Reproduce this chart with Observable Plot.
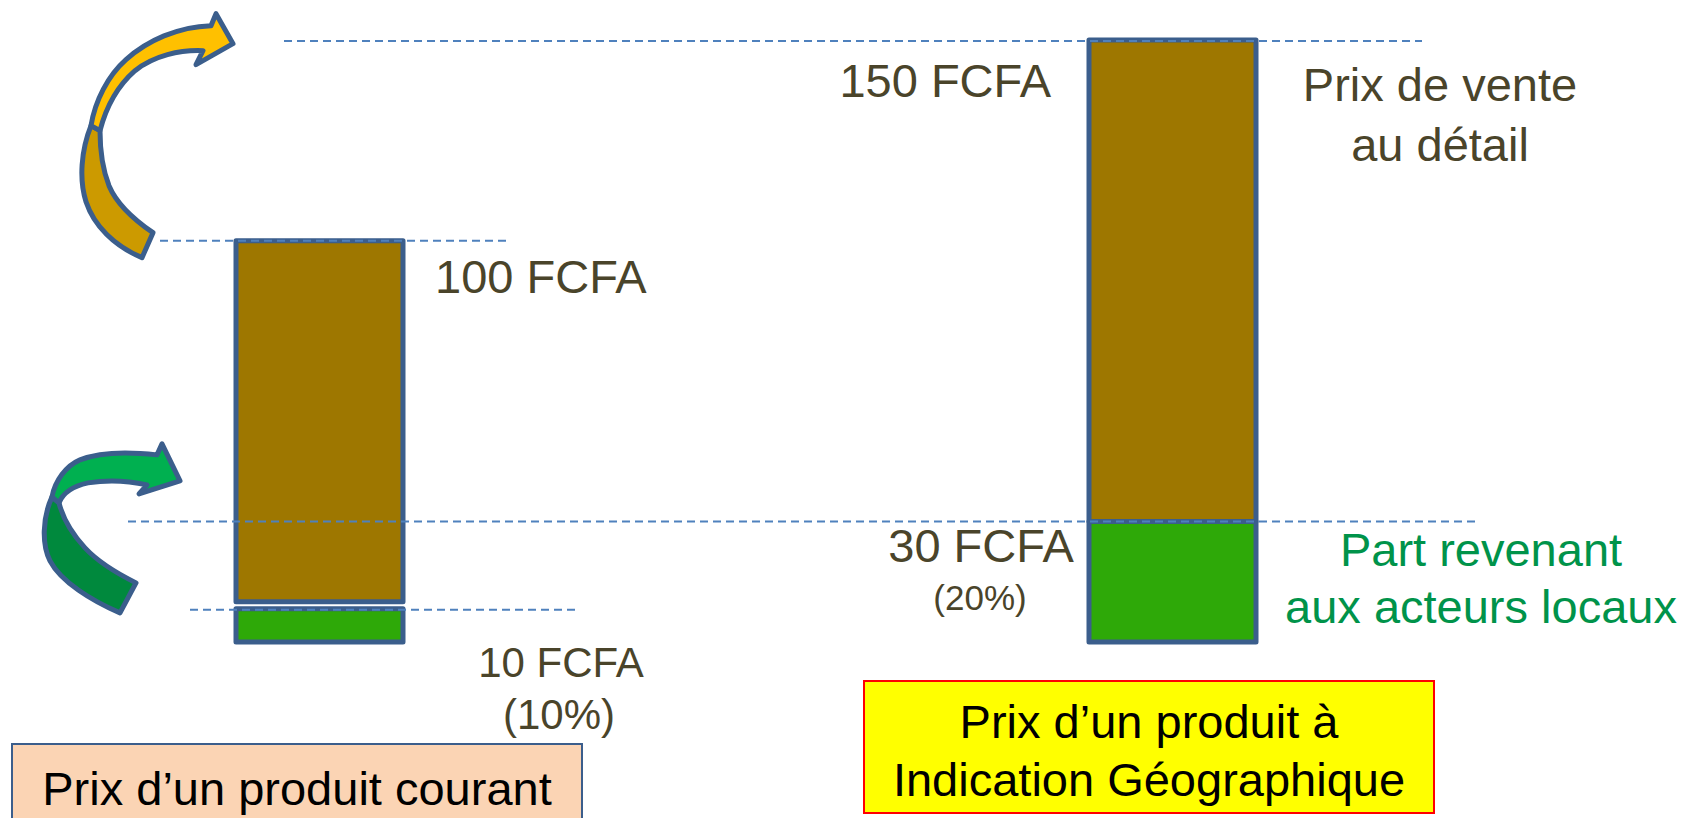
<!DOCTYPE html>
<html><head><meta charset="utf-8">
<script src="https://cdn.jsdelivr.net/npm/d3@7"></script>
<script src="https://cdn.jsdelivr.net/npm/@observablehq/plot@0.6"></script>
<style>
html,body{margin:0;padding:0;background:#fff;overflow:hidden;}
#wrap{position:relative;width:1698px;height:818px;overflow:hidden;font-family:"Liberation Sans",Arial,sans-serif;}
#wrap svg{position:absolute;left:0;top:0;}
.box{position:absolute;box-sizing:border-box;text-align:center;font-size:47px;line-height:58px;color:#000;white-space:pre;}
</style></head><body><div id="wrap"></div>
<script>
// ---- data ----
const categories = ["Prix d’un produit courant", "Prix d’un produit à\nIndication Géographique"];
const totalPrice = [100, 150];          // FCFA, prix de vente au détail
const localShare = [10, 30];            // FCFA, part revenant aux acteurs locaux
const totalLabels = ["100 FCFA", "150 FCFA"];
const localLabels = ["10 FCFA", "30 FCFA"];
const localPct = ["(10%)", "(20%)"];
const seriesNames = ["Prix de vente\nau détail", "Part revenant\naux acteurs locaux"];

const textColor = "#4A442A";
const brown = "#9E7700", green = "#2EA908", edge = "#3B5E8C";

const rows = categories.map((c, i) => ({
  cat: c, idx: i, total: totalPrice[i], local: localShare[i],
  totalLabel: totalLabels[i], localLabel: localLabels[i], pct: localPct[i]
}));
const left = rows.filter(d => d.idx === 0), right = rows.filter(d => d.idx === 1);
const font = "Liberation Sans, Arial, sans-serif";

const plot = Plot.plot({
  width: 1698, height: 818,
  marginLeft: 235, marginRight: 442, marginTop: 40, marginBottom: 176,
  x: {domain: categories, paddingInner: 0.8044, paddingOuter: 0, axis: null},
  y: {domain: [0, 150], axis: null},
  style: {fontFamily: font, background: "transparent", overflow: "visible"},
  marks: [
    Plot.barY(rows, {x: "cat", y1: "local", y2: "total", fill: brown, stroke: edge, strokeWidth: 5, strokeLinejoin: "round"}),
    Plot.barY(left, {x: "cat", y1: 0, y2: "local", insetTop: 7, fill: green, stroke: edge, strokeWidth: 5, strokeLinejoin: "round"}),
    Plot.barY(right, {x: "cat", y1: 0, y2: "local", fill: green, stroke: edge, strokeWidth: 5, strokeLinejoin: "round"}),
    // left bar labels
    Plot.text(left, {x: "cat", y: "total", text: "totalLabel", textAnchor: "start", dx: 115, dy: 37, fontSize: 47, fill: textColor}),
    Plot.text(left, {x: "cat", y: "local", text: "localLabel", textAnchor: "middle", dx: 241, dy: 61, fontSize: 42, fill: textColor}),
    Plot.text(left, {x: "cat", y: "local", text: "pct", textAnchor: "middle", dx: 239, dy: 113, fontSize: 42, fill: textColor}),
    // right bar labels
    Plot.text(right, {x: "cat", y: "total", text: "totalLabel", textAnchor: "end", dx: -122, dy: 41, fontSize: 47, fill: textColor}),
    Plot.text(right, {x: "cat", y: "total", text: () => seriesNames[0], textAnchor: "middle", dx: 267, dy: 71, fontSize: 47, lineHeight: 1.277, fill: textColor}),
    Plot.text(right, {x: "cat", y: "local", text: "localLabel", textAnchor: "middle", dx: -192, dy: 25, fontSize: 47, fill: textColor}),
    Plot.text(right, {x: "cat", y: "local", text: "pct", textAnchor: "middle", dx: -193, dy: 77, fontSize: 35, fill: textColor}),
    Plot.text(right, {x: "cat", y: "local", text: () => seriesNames[1], textAnchor: "middle", dx: 308, dy: 54, fontSize: 47, lineHeight: 1.213, fill: "#00934A"})
  ]
});

const wrap = document.getElementById("wrap");
wrap.appendChild(plot);

// ---- decorations tied to the y scale ----
const ys = plot.scale("y");
const svg = d3.select(plot);
const guides = [
  {v: totalPrice[1], x1: 284, x2: 1422, dy: 1},
  {v: totalPrice[0], x1: 160, x2: 506, dy: 0},
  {v: localShare[1], x1: 128, x2: 1475, dy: 0},
  {v: localShare[0], x1: 190, x2: 579, dy: 8}
];

// curved arrows (decorative)
const arrows = svg.append("g").attr("stroke", edge).attr("stroke-width", 5).attr("stroke-linejoin", "round");
const yShift = ys.apply(totalPrice[0]) - 235;
const gShift = ys.apply(localShare[0]) + 8 - 611;
const ya = arrows.append("g").attr("transform", `translate(0,${yShift})`);
ya.append("path").attr("fill", "#CC9A00")
  .attr("d", "M91,120 C81,145 79,174 86,196 C94,220 114,240 142,252 L153,227 C134,214 117,199 109,180 C102,162 100,145 100,125 Z");
ya.append("path").attr("fill", "#FFC000")
  .attr("d", "M91,120 C95,95 108,70 126,54 C147,35 178,21 211,20 L216,8 L233,38 L196,59 L203,45 C180,44 154,50 135,65 C119,79 107,98 100,125 Z");
const ga = arrows.append("g").attr("transform", `translate(0,${gShift})`);
ga.append("path").attr("fill", "#00893D")
  .attr("d", "M52,498 C42,520 42,546 50,562 C61,583 92,602 120,614 L136,584 C116,574 97,562 85,549 C73,536 63,520 59,504 Z");
ga.append("path").attr("fill", "#00B050")
  .attr("d", "M52,498 C55,482 66,467 80,461 C100,453 130,453 157,456 L162,445 L180,482 L139,495 L147,486 C129,482 106,481 88,484 C74,487 63,494 59,504 Z");

svg.append("g").selectAll("line").data(guides).join("line")
  .attr("x1", d => d.x1).attr("x2", d => d.x2)
  .attr("y1", d => ys.apply(d.v) + d.dy).attr("y2", d => ys.apply(d.v) + d.dy)
  .attr("stroke", "#4F81BD").attr("stroke-width", 2).attr("stroke-dasharray", "8,5");

// ---- category boxes (below the bars) ----
const boxes = [
  {text: categories[0], left: 11, top: 743, width: 572, height: 120, bg: "#FBD4B4", border: "2px solid " + edge, pad: 15},
  {text: categories[1], left: 863, top: 680, width: 572, height: 134, bg: "#FFFF00", border: "2px solid #FF0000", pad: 11}
];
boxes.forEach(b => {
  const d = document.createElement("div");
  d.className = "box";
  Object.assign(d.style, {left: b.left + "px", top: b.top + "px", width: b.width + "px", height: b.height + "px",
    background: b.bg, border: b.border, paddingTop: b.pad + "px"});
  d.textContent = b.text;
  wrap.appendChild(d);
});
</script></body></html>
